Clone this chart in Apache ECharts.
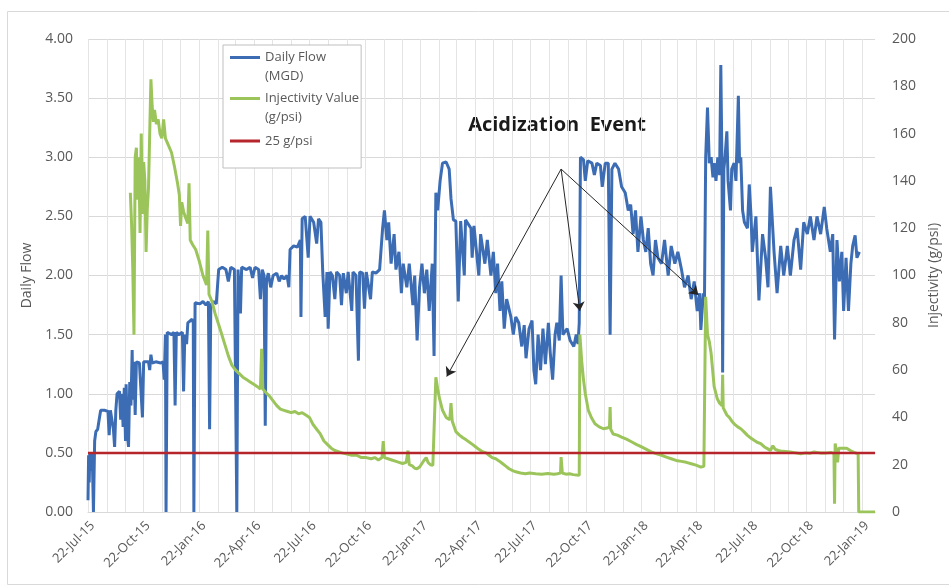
<!DOCTYPE html>
<html>
<head>
<meta charset="utf-8">
<title>Daily Flow and Injectivity</title>
<script src="https://cdn.jsdelivr.net/npm/echarts@6/dist/echarts.min.js"></script>
<style>
    html, body { margin: 0; padding: 0; background: #fff; }
    #flow_chart { width: 949px; height: 587px; }
</style>
</head>
<body>
<div id="flow_chart"></div>
<script>

// Data
// ------------------------------

// x values are days after 22-Jul-15
var startDate = Date.UTC(2015, 6, 22);
var dayCount = 1302;
var monthNames = ['Jan', 'Feb', 'Mar', 'Apr', 'May', 'Jun', 'Jul', 'Aug', 'Sep', 'Oct', 'Nov', 'Dec'];

var tickLabels = ['22-Jul-15', '22-Oct-15', '22-Jan-16', '22-Apr-16', '22-Jul-16', '22-Oct-16', '22-Jan-17',
    '22-Apr-17', '22-Jul-17', '22-Oct-17', '22-Jan-18', '22-Apr-18', '22-Jul-18', '22-Oct-18', '22-Jan-19'];

// Daily flow (MGD), left axis
var dailyFlow = [
    [0,0.1],[1,0.48],[2,0.25],[3,0.5],[5,0.35],[7,0.5],[9,0],[11,0.6],[13,0.68],[16,0.7],[19,0.8],[21,0.86],
    [28,0.86],[33,0.85],[35,0.65],[37,0.86],[40,0.86],[42,0.7],[44,0.55],[46,0.86],[48,1.0],[52,1.02],[54,0.78],
    [56,1.0],[58,0.72],[60,1.05],[62,0.6],[63,1.08],[65,0.66],[67,0.55],[69,1.1],[71,0.9],[73,1.37],[74,0.95],
    [76,1.27],[78,0.82],[80,1.27],[85,1.26],[88,1.25],[90,0.8],[92,1.27],[100,1.27],[102,1.2],[104,1.33],[106,1.26],
    [112,1.27],[120,1.26],[124,1.27],[126,1.12],[128,1.5],[129,0],[131,1.52],[138,1.5],[142,1.52],[144,0.9],
    [146,1.52],[150,1.5],[156,1.52],[158,1.02],[160,1.5],[163,1.42],[165,1.6],[172,1.63],[174,1.6],[175,0],
    [177,1.77],[185,1.76],[190,1.78],[195,1.75],[199,1.78],[201,0.7],[203,1.75],[208,1.78],[212,1.76],[216,2.05],
    [222,2.07],[228,2.05],[232,1.95],[236,2.07],[242,2.05],[246,0],[248,2.05],[252,1.68],[254,2.07],[262,2.05],
    [268,2.07],[272,1.98],[276,2.07],[282,2.05],[285,1.8],[288,2.05],[291,2.0],[293,0.73],[295,1.95],[298,2.02],
    [302,1.9],[306,2.0],[312,2.02],[316,1.95],[320,2.0],[324,1.97],[329,2.0],[332,1.9],
    [334,2.22],[340,2.25],[346,2.24],[351,2.3],[352,1.65],[354,2.48],[359,2.5],[364,2.15],[367,2.5],[373,2.45],
    [378,2.27],[381,2.48],[385,2.45],[388,2.03],[392,1.65],[395,2.03],[397,1.55],[400,2.03],[404,2.0],[408,1.8],
    [411,2.03],[416,2.0],[419,1.75],[422,2.02],[427,1.85],[430,2.03],[436,1.7],[438,2.03],[443,2.0],[447,1.28],
    [449,2.03],[454,2.02],[457,1.72],[460,2.03],[467,1.8],[470,2.03],[476,2.02],[482,2.05],[487,2.4],[490,2.55],
    [494,2.3],[497,2.45],[501,2.1],[506,2.35],[509,2.05],[514,2.2],[518,1.85],[521,2.1],[527,1.9],[531,2.1],
    [537,1.75],[540,2.0],[544,1.45],[548,1.9],[552,2.1],[556,1.85],[560,2.05],[564,1.7],[569,2.1],[572,1.32],
    [575,2.7],[578,2.55],[582,2.8],[586,2.95],[592,2.96],[597,2.9],[600,2.65],[604,2.47],[608,2.46],[612,1.78],
    [616,2.46],[622,2.0],[624,2.47],[633,2.4],[635,2.15],[638,2.42],[646,2.0],[649,2.35],[652,2.35],
    [656,2.1],[660,2.3],[666,2.0],[670,2.2],[674,1.85],[677,2.1],[681,1.7],[684,1.95],[688,1.55],[692,1.8],
    [699,1.65],[703,1.5],[707,1.65],[712,1.6],[717,1.4],[721,1.58],[724,1.3],[729,1.55],[734,1.62],[737,1.2],
    [740,1.08],[744,1.5],[748,1.2],[752,1.55],[756,1.25],[761,1.6],[764,1.35],[768,1.12],[772,1.5],[775,1.6],
    [779,1.45],[782,2.0],[785,1.5],[792,1.55],[797,1.45],[803,1.4],[807,1.5],[810,1.42],[812,1.6],[814,3.0],
    [819,2.98],[822,2.8],[826,2.97],[833,2.95],[837,2.85],[841,2.95],[847,2.93],[850,2.75],[855,2.95],[860,2.95],
    [863,1.5],[866,2.9],[871,2.95],[877,2.9],[882,2.75],[888,2.7],[893,2.55],[897,2.6],[901,2.35],[905,2.55],
    [909,2.2],[914,2.5],[918,2.3],[922,2.2],[926,2.4],[930,2.1],[934,2.0],[938,2.3],[942,2.15],[948,2.1],
    [953,2.3],[959,2.0],[964,2.25],[970,2.1],[975,2.2],[981,2.05],
    [986,1.9],[992,2.0],[997,1.8],[1002,1.95],[1007,1.7],[1011,1.85],[1013,1.54],[1017,1.85],[1019,1.8],[1021,3.0],
    [1023,3.0],[1024,3.42],[1027,2.95],[1030,3.0],[1033,2.83],[1035,2.95],[1038,2.8],[1041,3.0],[1044,2.85],
    [1046,3.78],[1048,2.9],[1049,1.18],[1051,2.9],[1053,3.0],[1056,3.22],[1058,2.8],[1062,2.55],[1064,2.9],
    [1068,2.95],[1071,2.8],[1075,3.52],[1077,2.95],[1079,3.0],[1082,2.55],[1085,2.45],[1090,2.4],[1093,2.77],
    [1096,2.5],[1098,2.2],[1104,2.5],[1109,1.79],[1115,2.35],[1120,2.15],[1124,1.9],[1128,2.75],[1134,2.2],
    [1139,1.85],[1145,2.25],[1150,2.0],[1156,2.25],[1161,2.0],[1167,2.3],[1172,2.4],[1178,2.05],[1183,2.45],
    [1189,2.35],[1194,2.5],[1200,2.3],[1205,2.5],[1211,2.35],[1217,2.58],[1221,2.4],[1227,2.2],[1231,2.35],
    [1234,1.46],[1238,2.3],[1242,1.95],[1246,2.2],[1249,1.7],[1253,2.15],[1257,1.7],[1261,2.1],[1264,2.25],
    [1268,2.34],[1271,2.15],[1275,2.2]
];

// Injectivity value (g/psi), right axis
var injectivity = [
    [70,135],[72,122],[74,103],[76,75],[78,150],[80,154],[82,132],[84,150],[86,118],[88,160],[90,126],[92,148],
    [94,140],[96,110],[98,128],[100,137],[102,160],[104,183],[106,172],[108,165],[110,170],[113,164],[116,166],
    [119,160],[122,158],[125,166],[128,158],[133,155],[138,152],[143,146],[148,139],[151,134],[153,121],[155,131],
    [158,127],[162,124],[165,122],[167,139],[169,115],[173,113],[178,111],[184,106],[190,100],[196,96],[198,119],
    [200,92],[205,89],[210,84],[215,80],[220,76],[226,71],[232,66],[238,62],[244,60],[250,58.5],[256,57],[262,56],
    [268,55],[274,54],[280,53],[285,52],[287,69],[289,52],[294,50.5],[300,49],[306,47],[312,45],[318,43.5],
    [324,43],[330,42.5],[336,42],[342,42.5],[348,41.5],[354,42],[360,41],[366,40],[372,37],[378,35],[384,33],
    [390,30],[396,28.5],[402,27],[408,26],[414,25.5],[420,25],[428,24.5],[436,24],[444,24],[452,23],[460,23],
    [468,22.5],[474,23],[480,22],[486,23],[488,30],[490,23],[496,22.5],[502,22],[508,21.5],[514,21],[520,20.5],
    [526,21],[529,26],[531,20],[536,19.5],[540,18.5],[544,18.3],[548,19],[552,20.5],[556,22],[559,23],[562,21],
    [566,20],[570,19.7],[573,20],[575,57],[578,52],[581,48],[586,43],[592,40],[598,39],[600,46],[602,38.5],
    [608,34],[614,32.5],[619,31.5],[625,30.5],[630,29.6],[636,28.5],[641,27.5],[646,26.5],[652,25.5],[658,25],
    [663,24],[668,23],[674,22.5],[680,21.5],[685,20.5],[690,19.5],[696,18.3],[702,17.5],[707,17],[715,16.5],
    [723,16.2],[730,16.5],[740,16.2],[750,16],[760,16.3],[770,16],[776,16.2],[781,16.5],[782,23.2],[784,16.5],
    [790,16],[796,16.2],[802,15.8],[808,15.6],[812,15.5],[813,75],[816,64],[819,56],[822,50],[827,43],[832,40],
    [838,37.3],[845,36],[852,35.2],[858,35.5],[862,36],[863,44.4],[864,35],[868,33],[875,32.5],[882,31.7],
    [890,30.8],[899,29.6],[907,28.5],[915,27.5],[923,26.5],[931,25.4],[940,24.6],[948,24],[956,23.2],[964,22.5],
    [972,21.8],[981,21.4],[989,21],[997,20.4],[1005,19.8],[1013,19],[1018,19.3],[1020,20],[1021,91],[1024,75],
    [1027,72],[1030,67],[1035,53],[1040,48],[1044,46],[1048,45],[1049,58],[1050,44],[1052,43],[1056,41],[1060,40],
    [1064,38.5],[1068,37.3],[1074,36],[1079,35.2],[1084,34],[1090,32.4],[1096,31.2],[1101,30.3],[1106,29.5],
    [1112,28.9],[1118,27.5],[1123,26.8],[1128,26],[1132,28],[1136,26.5],[1141,26],[1145,25.8],[1153,25.6],
    [1161,25.4],[1170,25],[1178,24.6],[1186,25],[1193,24.8],[1200,25.4],[1210,25],[1221,25],[1228,25.2],
    [1233,24.8],[1234,3.5],[1235,29],[1237,26],[1239,21],[1241,27],[1246,27],[1254,27],[1260,26],[1266,25.2],
    [1273,24.6],[1274,0],[1301,0]
];

// 25 g/psi reference line, right axis
var limitLine = [[0, 25], [1301, 25]];

// Annotation arrows (day, g/psi)
var arrowStart = [782, 145];
var arrowEnds = [[593, 57.3], [813, 85], [1009, 91.8]];

var legendNames = {
    'Daily Flow (MGD)': 'Daily Flow\n(MGD)',
    'Injectivity Value (g/psi)': 'Injectivity Value\n(g/psi)',
    '25 g/psi': '25 g/psi'
};


// Category labels, one per day
var dayLabels = [];
for (var i = 0; i < dayCount; i++) {
    var d = new Date(startDate + i * 86400000);
    dayLabels.push(d.getUTCDate() + '-' + monthNames[d.getUTCMonth()] + '-' + String(d.getUTCFullYear()).slice(2));
}

// Legend icons: line sits level with the first text row
var twoRowIcon = 'path://M0,0L30,0L30,3L0,3Z M0,22';
var oneRowIcon = 'path://M0,0 M0,9.5L30,9.5L30,12.5L0,12.5Z M0,22';


// Chart
// ------------------------------

var flow_chart = echarts.init(document.getElementById('flow_chart'));

flow_chart.setOption({
    animation: false,

    textStyle: {
        fontFamily: '"Open Sans", sans-serif'
    },

    grid: {
        left: 88,
        right: 69,
        top: 39,
        bottom: 75
    },

    legend: {
        orient: 'vertical',
        left: 223,
        top: 45,
        padding: [3, 2, 16, 7],
        itemGap: 3,
        itemWidth: 30,
        itemHeight: 22,
        borderColor: '#bfbfbf',
        borderWidth: 1,
        backgroundColor: '#fff',
        itemStyle: {
            borderWidth: 0
        },
        textStyle: {
            color: '#595959',
            fontSize: 13,
            lineHeight: 19
        },
        formatter: function (name) {
            return legendNames[name];
        },
        data: [
            { name: 'Daily Flow (MGD)', icon: twoRowIcon },
            { name: 'Injectivity Value (g/psi)', icon: twoRowIcon },
            { name: '25 g/psi', icon: oneRowIcon }
        ]
    },

    graphic: [
        {
            type: 'rect',
            silent: true,
            z: -10,
            shape: { x: 7.5, y: 11.5, width: 960, height: 573 },
            style: { fill: 'none', stroke: '#d9d9d9', lineWidth: 1 }
        },
        {
            type: 'text',
            silent: true,
            x: 557,
            y: 125,
            style: {
                text: 'Acidization  Event',
                font: 'bold 20px "Open Sans"',
                fill: '#1a1a1a',
                align: 'center',
                verticalAlign: 'middle'
            }
        }
    ],

    xAxis: {
        type: 'category',
        data: dayLabels,
        boundaryGap: false,
        axisLine: {
            lineStyle: { color: '#d9d9d9' }
        },
        axisTick: { show: false },
        axisLabel: {
            interval: function (index, value) {
                return tickLabels.indexOf(value) >= 0;
            },
            rotate: 45,
            margin: 7,
            verticalAlign: 'top',
            color: '#595959',
            fontSize: 13
        },
        splitLine: {
            show: true,
            interval: function (index, value) {
                return value.indexOf('22-') === 0;
            },
            lineStyle: { color: '#e4e4e4' }
        }
    },

    yAxis: [
        {
            type: 'value',
            min: 0,
            max: 4,
            interval: 0.5,
            name: 'Daily Flow',
            nameLocation: 'middle',
            nameGap: 48,
            nameRotate: 90,
            nameTextStyle: { color: '#595959', fontSize: 14 },
            axisLine: { show: false },
            axisTick: { show: false },
            axisLabel: {
                margin: 15,
                color: '#595959',
                fontSize: 14,
                formatter: function (v) { return v.toFixed(2); }
            },
            splitLine: {
                lineStyle: { color: '#d9d9d9' }
            }
        },
        {
            type: 'value',
            position: 'right',
            min: 0,
            max: 200,
            interval: 20,
            name: 'Injectivity (g/psi)',
            nameLocation: 'middle',
            nameGap: 50,
            nameRotate: 90,
            nameTextStyle: { color: '#595959', fontSize: 14 },
            axisLine: { show: false },
            axisTick: { show: false },
            axisLabel: {
                margin: 17,
                color: '#595959',
                fontSize: 14
            },
            splitLine: { show: false }
        }
    ],

    series: [
        {
            name: 'Daily Flow (MGD)',
            type: 'line',
            yAxisIndex: 0,
            showSymbol: false,
            color: '#3c6db4',
            lineStyle: { width: 3, color: '#3c6db4' },
            data: dailyFlow
        },
        {
            name: 'Injectivity Value (g/psi)',
            type: 'line',
            yAxisIndex: 1,
            showSymbol: false,
            color: '#9bc55b',
            lineStyle: { width: 3, color: '#9bc55b' },
            data: injectivity
        },
        {
            name: '25 g/psi',
            type: 'line',
            yAxisIndex: 1,
            showSymbol: false,
            color: '#b5252b',
            lineStyle: { width: 2.5, color: '#b5252b' },
            data: limitLine,
            markLine: {
                silent: true,
                symbol: ['none', 'arrow'],
                symbolSize: 9,
                label: { show: false },
                emphasis: { disabled: true },
                lineStyle: { color: '#262626', width: 1, type: 'solid' },
                data: arrowEnds.map(function (p) {
                    return [{ coord: arrowStart }, { coord: p }];
                })
            }
        }
    ]
});

</script>
</body>
</html>
